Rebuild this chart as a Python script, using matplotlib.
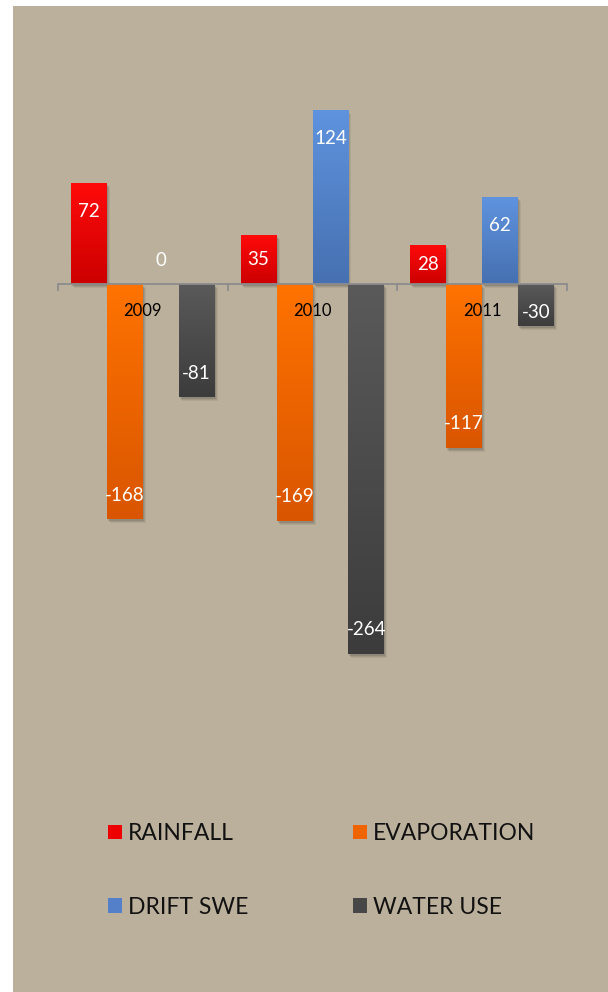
import numpy as np
import matplotlib
matplotlib.use("Agg")
import matplotlib.pyplot as plt
from matplotlib.patches import Rectangle
from matplotlib.colors import LinearSegmentedColormap
import matplotlib.transforms as mtransforms

# ---- data ----
years = ["2009", "2010", "2011"]
series_names = ["RAINFALL", "EVAPORATION", "DRIFT SWE", "WATER USE"]
rainfall = [72, 35, 28]
evaporation = [-168, -169, -117]
drift_swe = [0, 124, 62]
water_use = [-81, -264, -30]

# gradient colours (top, bottom) per series
top_colors = ["#ff0a0a", "#ff7300", "#5f93de", "#5a5a5a"]
bot_colors = ["#cc0000", "#d95500", "#4670b0", "#3c3c3c"]
legend_colors = ["#ee0000", "#f06400", "#5380c8", "#474747"]

plt.rcParams['font.family'] = ['Lato', 'DejaVu Sans']

W, H, DPI = 608, 992, 100
fig = plt.figure(figsize=(W / DPI, H / DPI), dpi=DPI, facecolor="white")

# beige panel
bg = Rectangle((13 / W, 0), 1 - 13 / W, 1 - 6 / H,
               transform=fig.transFigure, facecolor="#bbb09b",
               edgecolor="none", zorder=-10)
fig.patches.append(bg)

ymin, ymax = -300, 150
px_per_unit = 1.40
zero_px = 284
ax_top = zero_px - ymax * px_per_unit
ax_bot = zero_px - ymin * px_per_unit
ax_left, ax_right = 58, 567
ax = fig.add_axes([ax_left / W, 1 - ax_bot / H, (ax_right - ax_left) / W, (ax_bot - ax_top) / H])
ax.set_facecolor("none")
ax.set_zorder(5)

x = np.arange(len(years))
w = 36 / 170
offsets = [-1.5 * w, -0.5 * w, 0.5 * w, 1.5 * w]
all_series = [rainfall, evaporation, drift_swe, water_use]

for si, vals in enumerate(all_series):
    xs = x + offsets[si]
    # soft shadow
    for k, a in enumerate([0.10, 0.08, 0.06]):
        tr = ax.transData + mtransforms.ScaledTranslation((1 + k) / DPI, -(2 + k) / DPI, fig.dpi_scale_trans)
        ax.bar(xs, vals, width=w, color="black", alpha=a, transform=tr, zorder=1, linewidth=0)
    bars = ax.bar(xs, vals, width=w, color=legend_colors[si], zorder=2, linewidth=0,
                  label=series_names[si])
    cmap = LinearSegmentedColormap.from_list("g%d" % si, [top_colors[si], bot_colors[si]])
    grad = np.linspace(0, 1, 256).reshape(-1, 1)
    for b, v in zip(bars, vals):
        if v == 0:
            continue
        x0 = b.get_x()
        y_lo, y_hi = min(0, v), max(0, v)
        im = ax.imshow(grad, extent=[x0, x0 + w, y_lo, y_hi], cmap=cmap, aspect="auto",
                       origin="upper", zorder=3, interpolation="bilinear")
        im.set_clip_path(b)
    # labels
    for xi, v in zip(xs, vals):
        bar_px = abs(v) * px_per_unit
        if v == 0:
            ypx = 23
        elif v > 0:
            ypx = -min(28, bar_px / 2)
        else:
            ypx = min(24, bar_px / 3)
        ax.annotate(str(v), (xi, v), xytext=(0, ypx), textcoords="offset pixels",
                    ha="center", va="center", color="white", fontsize=13.5, zorder=6)

ax.set_xlim(-0.5, 2.5)
ax.set_ylim(ymin, ymax)

# axis line and ticks
ax.axhline(0, color="#8c8c8c", lw=1.3, zorder=4)
for xb in [-0.5, 0.5, 1.5, 2.5]:
    ax.plot([xb, xb], [0, -6 / px_per_unit], color="#8c8c8c", lw=1.3, zorder=4, clip_on=False)

# category labels
for xi, yr in zip(x, years):
    ax.annotate(yr, (xi, 0), xytext=(0, -27), textcoords="offset pixels",
                ha="center", va="center", color="black", fontsize=12, zorder=6)

for s in ax.spines.values():
    s.set_visible(False)
ax.set_xticks([])
ax.set_yticks([])

# legend
handles = [Rectangle((0, 0), 1, 1, facecolor=c, edgecolor="none") for c in legend_colors]
order = [0, 2, 1, 3]
leg = fig.legend([handles[i] for i in order], [series_names[i] for i in order],
                 ncol=2, loc="upper left", bbox_to_anchor=(108 / W, 1 - 823 / H),
                 frameon=False, fontsize=16.5, handlelength=0.61, handleheight=0.61,
                 handletextpad=0.26, columnspacing=4.55, labelspacing=2.3,
                 borderaxespad=0, borderpad=0)
for t in leg.get_texts():
    t.set_color("#111111")

fig.savefig("out.png", dpi=DPI, facecolor="white")
